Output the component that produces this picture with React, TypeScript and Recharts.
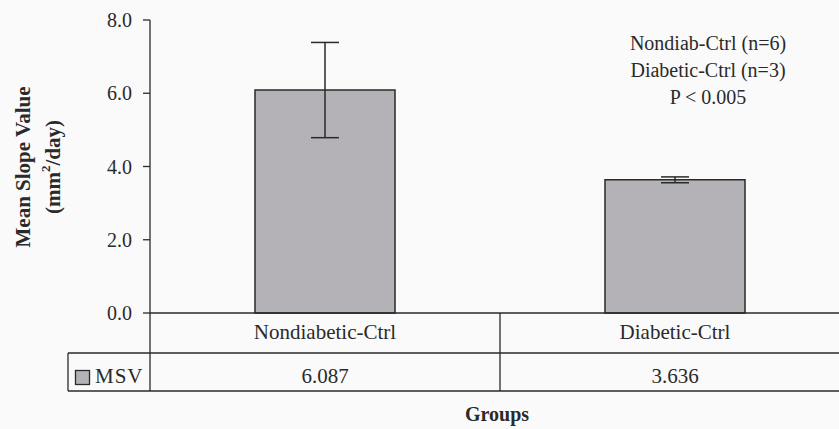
import { Bar, BarChart, ErrorBar, XAxis, YAxis } from 'recharts';

const categories = ['Nondiabetic-Ctrl', 'Diabetic-Ctrl'];
const msvValues = [6.087, 3.636];
const msvErrors = [1.3, 0.08];
const yTicks = [0, 2, 4, 6, 8];
const notes = ['Nondiab-Ctrl (n=6)', 'Diabetic-Ctrl (n=3)', 'P < 0.005'];
const seriesName = 'MSV';

// layout
const CHART_W = 860;
const CHART_H = 429;
const PLOT_LEFT = 150;
const PLOT_RIGHT = 850;
const PLOT_TOP = 20;
const AXIS_Y = 313;
const ROW_Y = 353;
const TABLE_BOTTOM = 391;
const TABLE_LEFT = 68;
const FONT = '"Liberation Serif", "Times New Roman", serif';
const INK = '#2a2a2a';
const BAR_FILL = '#b4b2b6';

const data = categories.map((name, i) => ({ name, msv: msvValues[i], err: msvErrors[i] }));

function CategoryTick({ x, payload }: any) {
  return (
    <text x={x} y={AXIS_Y + 26} textAnchor="middle" fontFamily={FONT} fontSize={21} fill={INK}>
      {payload.value}
    </text>
  );
}

function DataTable() {
  const band = (PLOT_RIGHT - PLOT_LEFT) / categories.length;
  return (
    <svg
      width={CHART_W}
      height={CHART_H}
      style={{ position: 'absolute', left: 0, top: 0, pointerEvents: 'none' }}
    >
      <g stroke={INK} strokeWidth={1.3}>
        <line x1={PLOT_LEFT} x2={PLOT_LEFT} y1={AXIS_Y} y2={TABLE_BOTTOM} />
        {categories.slice(1).map((_, i) => (
          <line key={i} x1={PLOT_LEFT + band * (i + 1)} x2={PLOT_LEFT + band * (i + 1)} y1={AXIS_Y} y2={TABLE_BOTTOM} />
        ))}
        <line x1={TABLE_LEFT} x2={TABLE_LEFT} y1={ROW_Y} y2={TABLE_BOTTOM} />
        <line x1={TABLE_LEFT} x2={CHART_W} y1={ROW_Y} y2={ROW_Y} />
        <line x1={TABLE_LEFT} x2={CHART_W} y1={TABLE_BOTTOM} y2={TABLE_BOTTOM} />
      </g>
      <rect x={75.5} y={370.5} width={14} height={14} fill={BAR_FILL} stroke={INK} strokeWidth={1.3} />
      <text x={95} y={383} fontFamily={FONT} fontSize={21} letterSpacing={1} fill={INK}>
        {seriesName}
      </text>
      {msvValues.map((v, i) => (
        <text
          key={i}
          x={PLOT_LEFT + band * (i + 0.5)}
          y={383}
          textAnchor="middle"
          fontFamily={FONT}
          fontSize={21}
          fill={INK}
        >
          {v.toFixed(3)}
        </text>
      ))}
      <text x={497} y={421} textAnchor="middle" fontFamily={FONT} fontSize={20} fontWeight="bold" fill={INK}>
        Groups
      </text>
      <g fontFamily={FONT} fontSize={21} fontWeight="bold" fill={INK} textAnchor="middle">
        <text transform="translate(30,167) rotate(-90)">Mean Slope Value</text>
        <text transform="translate(60,167) rotate(-90)">
          (mm<tspan fontSize={13} dy={-10}>2</tspan>
          <tspan dy={10}>/day)</tspan>
        </text>
      </g>
      <g fontFamily={FONT} fontSize={20} fill={INK} textAnchor="middle">
        {notes.map((n, i) => (
          <text key={i} x={708} y={50 + i * 27}>
            {n}
          </text>
        ))}
      </g>
    </svg>
  );
}

export default function App() {
  return (
    <div
      style={{
        position: 'absolute',
        left: 0,
        top: 0,
        width: 839,
        height: 429,
        overflow: 'hidden',
        background: '#fafafa',
      }}
    >
      <BarChart
        width={CHART_W}
        height={CHART_H}
        data={data}
        margin={{ top: PLOT_TOP, right: CHART_W - PLOT_RIGHT, left: 0, bottom: CHART_H - AXIS_Y - 40 }}
        barSize={140}
      >
        <XAxis
          dataKey="name"
          height={40}
          tickLine={false}
          axisLine={{ stroke: INK, strokeWidth: 1.3 }}
          tick={<CategoryTick />}
          interval={0}
        />
        <YAxis
          width={PLOT_LEFT}
          domain={[0, 8]}
          ticks={yTicks}
          tickFormatter={(v: number) => v.toFixed(1)}
          tickSize={7}
          tickMargin={11}
          axisLine={{ stroke: INK, strokeWidth: 1.3 }}
          tickLine={{ stroke: INK, strokeWidth: 1.3 }}
          tick={{ fontFamily: FONT, fontSize: 20, fill: INK }}
        />
        <Bar dataKey="msv" fill={BAR_FILL} stroke={INK} strokeWidth={1.5} isAnimationActive={false}>
          <ErrorBar dataKey="err" width={14} stroke={INK} strokeWidth={1.5} direction="y" />
        </Bar>
      </BarChart>
      <DataTable />
    </div>
  );
}
